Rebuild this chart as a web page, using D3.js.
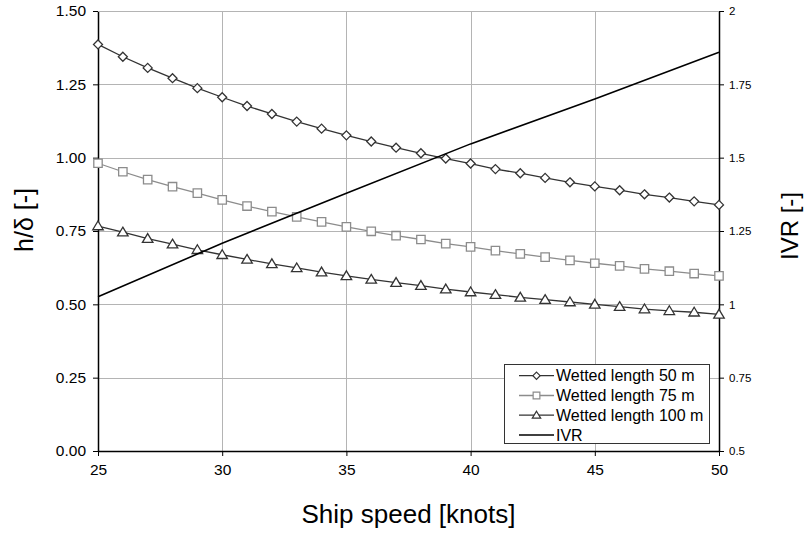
<!DOCTYPE html>
<html>
<head>
<meta charset="utf-8">
<script src="https://cdn.jsdelivr.net/npm/d3@7"></script>
<style>
  html, body { margin: 0; padding: 0; background: #fff; }
  svg { display: block; font-family: "Liberation Sans", Arial, sans-serif; }
</style>
</head>
<body>
<svg id="chart" width="805" height="533"></svg>
<script>
// ---- data ----
const speeds = [25,26,27,28,29,30,31,32,33,34,35,36,37,38,39,40,41,42,43,44,45,46,47,48,49,50];
const len50 = [1.386,1.344,1.306,1.271,1.237,1.206,1.176,1.149,1.123,1.099,1.076,1.055,1.034,1.015,0.997,0.980,0.961,0.947,0.931,0.916,0.902,0.889,0.875,0.864,0.851,0.839];
const len75 = [0.981,0.952,0.925,0.901,0.879,0.856,0.835,0.816,0.798,0.781,0.764,0.749,0.734,0.721,0.707,0.696,0.683,0.672,0.661,0.650,0.640,0.631,0.621,0.613,0.605,0.597];
const len100 = [0.767,0.746,0.724,0.705,0.686,0.669,0.653,0.638,0.624,0.610,0.597,0.585,0.574,0.564,0.552,0.542,0.533,0.524,0.516,0.508,0.500,0.492,0.484,0.478,0.473,0.466];
const ivrSpeeds = [25,30,35,40,45,50];
const ivrValues = [1.026,1.208,1.379,1.547,1.700,1.859];
const xTicks = [25,30,35,40,45,50];
const yLeftTicks = [0,0.25,0.5,0.75,1.0,1.25,1.5];
const yRightTicks = [0.5,0.75,1,1.25,1.5,1.75,2];
const legendLabels = ["Wetted length 50 m","Wetted length 75 m","Wetted length 100 m","IVR"];
const xTitle = "Ship speed [knots]";
const yLeftTitle = "h/δ [-]";
const yRightTitle = "IVR [-]";

// ---- layout ----
const L = 98, R = 719, T = 11, B = 451;
const svg = d3.select("#chart");
const x = d3.scaleLinear().domain([25,50]).range([L,R]);
const yL = d3.scaleLinear().domain([0,1.5]).range([B,T]);
const yR = d3.scaleLinear().domain([0.5,2]).range([B,T]);

const gridColor = "#b4b4b4";
// grid
const grid = svg.append("g");
grid.selectAll("line.h").data(yLeftTicks.filter(d => d > 0)).join("line")
  .attr("x1", L).attr("x2", R)
  .attr("y1", d => Math.round(yL(d)) + 0.5).attr("y2", d => Math.round(yL(d)) + 0.5)
  .attr("stroke", gridColor).attr("stroke-width", 1);
grid.selectAll("line.v").data(xTicks.filter(d => d > 25 && d < 50)).join("line")
  .attr("y1", T).attr("y2", B)
  .attr("x1", d => Math.round(x(d)) + 0.5).attr("x2", d => Math.round(x(d)) + 0.5)
  .attr("stroke", gridColor).attr("stroke-width", 1);

// axes
const fs = 15.5;
const axL = svg.append("g").attr("transform", `translate(${L},0)`)
  .call(d3.axisLeft(yL).tickValues(yLeftTicks).tickFormat(d3.format(".2f")).tickSize(5).tickPadding(7));
const axB = svg.append("g").attr("transform", `translate(0,${B})`)
  .call(d3.axisBottom(x).tickValues(xTicks).tickFormat(d3.format("d")).tickSize(5).tickPadding(8));
const axR = svg.append("g").attr("transform", `translate(${R},0)`)
  .call(d3.axisRight(yR).tickValues(yRightTicks).tickFormat(d => String(d)).tickSize(5).tickPadding(5));
[axL, axB, axR].forEach(a => {
  a.selectAll("path.domain").attr("stroke", "#000").attr("stroke-width", 1.5);
  a.selectAll(".tick line").attr("stroke", "#000");
  a.selectAll("text").attr("fill", "#000").attr("font-family", '"Liberation Sans", Arial, sans-serif');
});
axL.selectAll("text").attr("font-size", fs);
axB.selectAll("text").attr("font-size", fs);
axR.selectAll("text").attr("font-size", 11.5);
axL.select("path.domain").attr("d", `M0.5,${T}V${B}`);
axB.select("path.domain").attr("d", `M${L},0.5H${R}`);
axR.select("path.domain").attr("d", `M0.5,${T}V${B}`);

// top border gray
svg.append("line").attr("x1", L).attr("x2", R).attr("y1", T + 0.5).attr("y2", T + 0.5)
  .attr("stroke", gridColor);

// series
const markers = {
  diamond: s => `M0,${-s}L${s},0L0,${s}L${-s},0Z`,
  square: s => `M${-s},${-s}H${s}V${s}H${-s}Z`,
  triangle: s => `M0,${-s}L${s * 1.05},${s * 0.75}H${-s * 1.05}Z`
};
const series = [
  { vals: len50, color: "#333333", mcolor: "#333333", marker: "diamond", size: 4.5 },
  { vals: len75, color: "#8c8c8c", mcolor: "#8c8c8c", marker: "square", size: 4.2 },
  { vals: len100, color: "#333333", mcolor: "#333333", marker: "triangle", size: 5 }
];
const lineGen = d3.line().x(d => x(d[0])).y(d => yL(d[1]));
series.forEach(s => {
  const pts = speeds.map((v, i) => [v, s.vals[i]]);
  svg.append("path").datum(pts).attr("d", lineGen)
    .attr("fill", "none").attr("stroke", s.color).attr("stroke-width", 1.3);
  svg.append("g").selectAll("path").data(pts).join("path")
    .attr("transform", d => `translate(${x(d[0])},${yL(d[1])})`)
    .attr("d", markers[s.marker](s.size))
    .attr("fill", "#fff").attr("stroke", s.mcolor).attr("stroke-width", 1.3);
});
// IVR line
const ivrPts = ivrSpeeds.map((v, i) => [v, ivrValues[i]]);
svg.append("path").datum(ivrPts)
  .attr("d", d3.line().x(d => x(d[0])).y(d => yR(d[1])))
  .attr("fill", "none").attr("stroke", "#000").attr("stroke-width", 1.6);

// legend
const lg = svg.append("g");
lg.append("rect").attr("x", 504.5).attr("y", 364.5).attr("width", 205).attr("height", 79)
  .attr("fill", "#fff").attr("stroke", "#333").attr("stroke-width", 1);
const rowY = [375.7, 395.5, 415.2, 435];
legendLabels.forEach((lab, i) => {
  const y = rowY[i];
  const s = series[i];
  lg.append("line").attr("x1", 519).attr("x2", 554).attr("y1", y).attr("y2", y)
    .attr("stroke", s ? s.color : "#000").attr("stroke-width", s ? 1.3 : 1.6);
  if (s) {
    lg.append("path").attr("transform", `translate(536.5,${y})`)
      .attr("d", markers[s.marker](s.size * 0.8))
      .attr("fill", "#fff").attr("stroke", s.mcolor).attr("stroke-width", 1.2);
  }
  lg.append("text").attr("x", 556).attr("y", y + 5.5).attr("font-size", 16)
    .attr("fill", "#000").text(lab);
});

// titles
svg.append("text").attr("x", (L + R) / 2).attr("y", 523).attr("text-anchor", "middle")
  .attr("font-size", 26).attr("fill", "#000").text(xTitle);
svg.append("text").attr("transform", `translate(33,220) rotate(-90)`).attr("text-anchor", "middle")
  .attr("font-size", 25).attr("fill", "#000").text(yLeftTitle);
svg.append("text").attr("transform", `translate(798,226) rotate(-90)`).attr("text-anchor", "middle")
  .attr("font-size", 24).attr("fill", "#000").text(yRightTitle);
</script>
</body>
</html>
